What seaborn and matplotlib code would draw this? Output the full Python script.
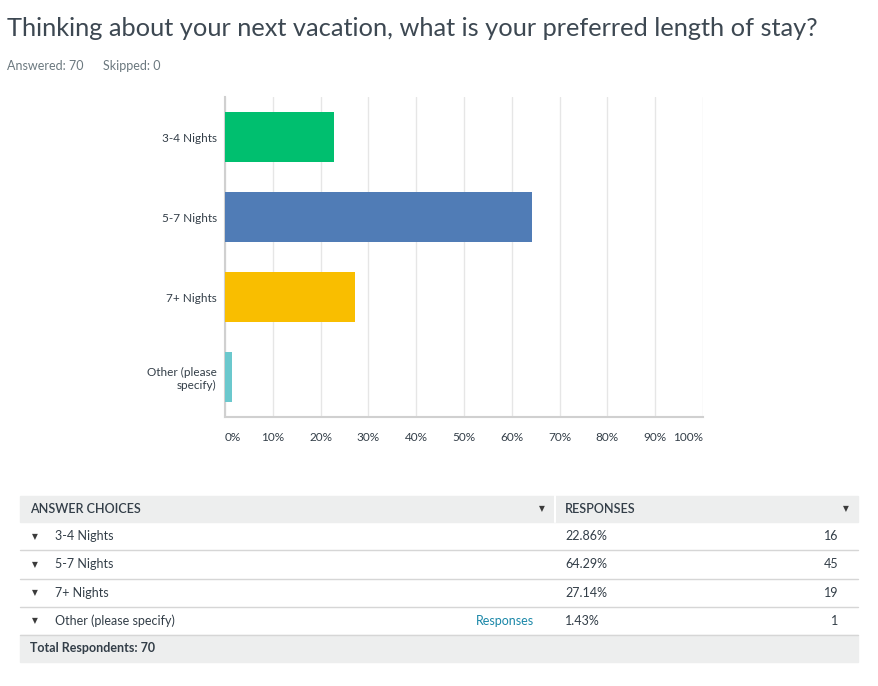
import matplotlib
matplotlib.use("Agg")
import matplotlib.pyplot as plt
import seaborn as sns
import pandas as pd
from matplotlib.patches import Rectangle
from matplotlib.lines import Line2D

# survey data
question = "Thinking about your next vacation, what is your preferred length of stay?"
answered = 70
skipped = 0
choices = ["3-4 Nights", "5-7 Nights", "7+ Nights", "Other (please specify)"]
axis_labels = ["3-4 Nights", "5-7 Nights", "7+ Nights", "Other (please\nspecify)"]
percents = [22.86, 64.29, 27.14, 1.43]
counts = [16, 45, 19, 1]
bar_colors = ["#00BF6F", "#507CB6", "#F9BE00", "#6BC8CD"]
x_ticks = [0, 10, 20, 30, 40, 50, 60, 70, 80, 90, 100]

W, H = 879, 686
TEXT = "#333e48"
GRAY = "#6b787f"

sns.set_style("white")
plt.rcParams["font.family"] = ["Lato", "DejaVu Sans"]


def fx(x):
    return x / W


def fy(y):
    return 1 - y / H


df = pd.DataFrame({"label": axis_labels, "percent": percents})

fig = plt.figure(figsize=(W / 100, H / 100), dpi=100)
ax = fig.add_axes([fx(225), fy(417), 478 / W, 320 / H])

sns.barplot(data=df, x="percent", y="label", hue="label", palette=bar_colors,
            orient="h", width=0.625, saturation=1, legend=False, ax=ax, zorder=3,
            linewidth=0)

ax.set_xlim(0, 100)
ax.set_ylim(len(choices) - 0.5, -0.5)
ax.set_xticks(x_ticks)
ax.set_xticklabels([f"{t}%" for t in x_ticks])
ax.xaxis.grid(True, color="#e6e6e6", linewidth=1, zorder=0)
ax.set_xlabel("")
ax.set_ylabel("")
for s in ["top", "right"]:
    ax.spines[s].set_visible(False)
for s in ["left", "bottom"]:
    ax.spines[s].set_color("#d0d0d0")
    ax.spines[s].set_linewidth(1.5)
ax.tick_params(axis="x", length=0, pad=11, labelsize=8.5, labelcolor=TEXT)
ax.tick_params(axis="y", length=0, pad=6, labelsize=8.5, labelcolor=TEXT)
xl = ax.get_xticklabels()
xl[0].set_ha("left")
xl[-1].set_ha("right")
for lab in ax.get_yticklabels():
    lab.set_multialignment("right")

# title and counts
fig.text(fx(7), fy(28), question, fontsize=18.3, color="#3d4852", va="center")
fig.text(fx(7), fy(66), f"Answered: {answered}", fontsize=9, color=GRAY, va="center")
fig.text(fx(103), fy(66), f"Skipped: {skipped}", fontsize=9, color=GRAY, va="center")

# summary table
left, right, split = 20, 858, 555
head_top, head_bot = 496, 522
row_h = 28.25
tri = dict(family="DejaVu Sans", fontsize=5.5, color="#3b3b3b", va="center", ha="center")

fig.patches.append(Rectangle((fx(left), fy(head_bot)), (right - left) / W,
                             (head_bot - head_top) / H, color="#edeeee",
                             transform=fig.transFigure, zorder=0))
fig.lines.append(Line2D([fx(split), fx(split)], [fy(head_top), fy(head_bot)],
                        color="white", lw=1.5, transform=fig.transFigure))
hy = fy((head_top + head_bot) / 2)
fig.text(fx(30), hy, "ANSWER CHOICES", fontsize=9, color=TEXT, va="center",
         fontweight="semibold")
fig.text(fx(565), hy, "RESPONSES", fontsize=9, color=TEXT, va="center",
         fontweight="semibold")
fig.text(fx(542), hy, "\u25bc", **tri)
fig.text(fx(846), hy, "\u25bc", **tri)

for i, (name, p, c) in enumerate(zip(choices, percents, counts)):
    top = head_bot + i * row_h
    cy = fy(top + row_h / 2)
    fig.text(fx(35), cy, "\u25bc", **tri)
    fig.text(fx(55), cy, name, fontsize=9, color=TEXT, va="center")
    fig.text(fx(565), cy, f"{p:.2f}%", fontsize=9, color=TEXT, va="center")
    fig.text(fx(838), cy, str(c), fontsize=9, color=TEXT, va="center", ha="right")
    if name.startswith("Other"):
        fig.text(fx(534), cy, "Responses", fontsize=9, color="#1a87a8",
                 va="center", ha="right")
    fig.lines.append(Line2D([fx(left), fx(right)], [fy(top + row_h)] * 2,
                            color="#d6d6d6", lw=1, transform=fig.transFigure))

tot_top = head_bot + len(choices) * row_h
fig.patches.append(Rectangle((fx(left), fy(tot_top + 27)), (right - left) / W, 27 / H,
                             color="#edeeee", transform=fig.transFigure, zorder=0))
fig.text(fx(30), fy(tot_top + 13.5), f"Total Respondents: {answered}", fontsize=9,
         color=TEXT, va="center", fontweight="bold")

fig.savefig("out.png", dpi=100)
